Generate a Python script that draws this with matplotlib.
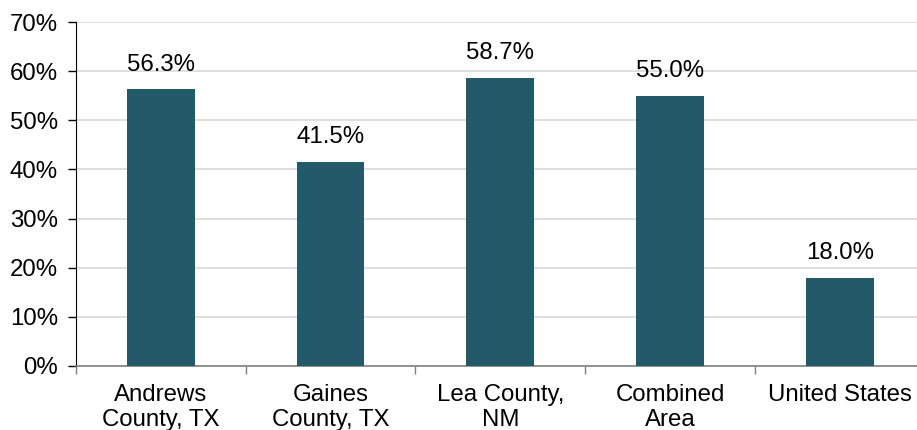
import matplotlib
matplotlib.use("Agg")
import matplotlib.pyplot as plt
from matplotlib.ticker import FixedLocator

categories = ["Andrews\nCounty, TX", "Gaines\nCounty, TX", "Lea County,\nNM", "Combined\nArea", "United States"]
values = [56.3, 41.5, 58.7, 55.0, 18.0]
yticks = [0, 10, 20, 30, 40, 50, 60, 70]

plt.rcParams['font.family'] = ['Liberation Sans', 'DejaVu Sans']
FS = 17.3

fig = plt.figure(figsize=(9.17, 4.30), dpi=100)
ax = fig.add_axes([76/917, 1-366/430, 848.5/917, (366-22)/430])

x = list(range(len(categories)))
ax.bar(x, values, width=0.4, color="#235A6A", zorder=3)

for xi, v in zip(x, values):
    ax.annotate(f"{v:.1f}%", (xi, v), xytext=(0, 13.5), textcoords="offset points",
                ha="center", va="baseline", fontsize=FS, color="#000000")

ax.set_ylim(0, 70)
ax.set_xlim(-0.5, len(categories) - 0.5)
ax.set_yticks(yticks)
ax.set_yticklabels([f"{t}%" for t in yticks], fontsize=FS)
ax.yaxis.grid(True, color="#d9d9d9", linewidth=1.2, zorder=0)
ax.set_axisbelow(True)

ax.set_xticks(x)
ax.set_xticklabels(categories, fontsize=FS, linespacing=1.15)
ax.tick_params(axis="x", length=0, pad=13)
ax.xaxis.set_minor_locator(FixedLocator([i - 0.5 for i in range(len(categories) + 1)]))
ax.tick_params(axis="x", which="minor", length=6, width=1, color="#808080")
ax.tick_params(axis="y", length=6, width=1, color="#000000", pad=7)

ax.spines["top"].set_visible(False)
ax.spines["right"].set_visible(False)
ax.spines["left"].set_color("#000000")
ax.spines["bottom"].set_color("#808080")
ax.spines["bottom"].set_linewidth(1.2)

fig.savefig("out.png", dpi=100)
